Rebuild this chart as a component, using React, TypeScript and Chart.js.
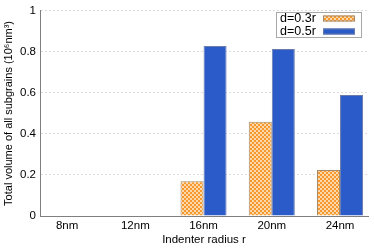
import React, { useEffect, useRef } from "react";
import { Chart, registerables } from "chart.js";

Chart.register(...registerables);

const categories = ["8nm", "12nm", "16nm", "20nm", "24nm"];
const seriesNames = ["d=0.3r", "d=0.5r"];
const valuesD03 = [0, 0, 0.17, 0.46, 0.224];
const valuesD05 = [0, 0, 0.829, 0.814, 0.59];
const yTicks = [0, 0.2, 0.4, 0.6, 0.8, 1];
const xPositions = [1, 2, 3, 4, 5];

const FONT = "'Liberation Sans', Arial, sans-serif";

function makePattern(): CanvasPattern | string {
  const c = document.createElement("canvas");
  c.width = 4;
  c.height = 4;
  const g = c.getContext("2d");
  if (!g) return "#f5a03c";
  g.fillStyle = "#f5992f";
  g.fillRect(0, 0, 4, 4);
  g.fillStyle = "#fcd8aa";
  g.fillRect(0, 0, 2, 2);
  g.fillRect(2, 2, 2, 2);
  const p = g.createPattern(c, "repeat");
  return p || "#f5a03c";
}

export default function App() {
  const ref = useRef<HTMLCanvasElement>(null);
  useEffect(() => {
    document.body.style.margin = "0";
    const canvas = ref.current;
    if (!canvas) return;
    const pattern = makePattern();
    const colors = [pattern, "#2a5bc9"];
    const borders = ["#a58a6c", "#6a7ca8"];

    const legendPlugin = {
      id: "customLegend",
      afterDraw(chart: any) {
        const ctx = chart.ctx;
        ctx.save();
        ctx.fillStyle = "#ffffff";
        ctx.fillRect(276.5, 12.5, 85, 25);
        ctx.strokeStyle = "#a8a8a8";
        ctx.lineWidth = 1;
        ctx.strokeRect(276.5, 12.5, 85, 25);
        ctx.font = "12.5px " + FONT;
        ctx.textBaseline = "middle";
        ctx.textAlign = "left";
        seriesNames.forEach((name, i) => {
          const cy = 18.5 + i * 13;
          ctx.fillStyle = "#000";
          ctx.fillText(name, 280, cy);
          ctx.fillStyle = colors[i];
          ctx.fillRect(323, cy - 3, 32, 6);
          ctx.strokeStyle = borders[i];
          ctx.strokeRect(323.5, cy - 2.5, 31, 5);
        });
        ctx.restore();
      },
    };

    const chart = new Chart(canvas, {
      type: "bar",
      data: {
        datasets: [valuesD03, valuesD05].map((vals, i) => ({
          label: seriesNames[i],
          data: vals.map((v, j) => ({ x: xPositions[j], y: v })),
          backgroundColor: colors[i],
          borderColor: borders[i],
          borderWidth: 1,
          categoryPercentage: 0.675,
          barPercentage: 1,
        })),
      },
      options: {
        responsive: false,
        animation: false,
        layout: { padding: { top: 6, right: 6, left: 0, bottom: 0 } },
        plugins: { legend: { display: false }, tooltip: { enabled: false } },
        scales: {
          x: {
            type: "linear",
            offset: false,
            min: 0.603,
            max: 5.41,
            grid: { display: false, drawTicks: false, offset: false },
            border: { color: "#7f7f7f", width: 1 },
            afterBuildTicks(scale: any) {
              scale.ticks = xPositions.map((v) => ({ value: v }));
            },
            afterFit(scale: any) {
              scale.height = 33;
            },
            ticks: {
              padding: 3,
              color: "#000",
              font: { family: FONT, size: 11.5 },
              callback: (v: any) => {
                const idx = xPositions.indexOf(Number(v));
                return idx >= 0 ? categories[idx] : "";
              },
            },
            title: {
              display: true,
              text: "Indenter radius r",
              color: "#000",
              font: { family: FONT, size: 11.5 },
              padding: { top: 1, bottom: 2 },
            },
          },
          y: {
            min: 0,
            max: 1,
            grid: {
              color: "#dcdcdc",
              drawTicks: false,
            },
            border: { color: "#7f7f7f", width: 1, dash: [2, 2] },
            afterBuildTicks(scale: any) {
              scale.ticks = yTicks.map((v) => ({ value: v }));
            },
            afterFit(scale: any) {
              scale.width = 40;
            },
            ticks: {
              padding: 4,
              color: "#000",
              font: { family: FONT, size: 11.5 },
              callback: (v: any) => String(Number(v)),
            },
            title: {
              display: true,
              text: "Total volume of all subgrains (10\u2076nm\u00b3)",
              color: "#000",
              font: { family: FONT, size: 11 },
              padding: { top: 2, bottom: 0 },
            },
          },
        },
      },
      plugins: [legendPlugin],
    } as any);
    return () => chart.destroy();
  }, []);
  return (
    <div style={{ width: 374, height: 249 }}>
      <canvas ref={ref} width={374} height={249} />
    </div>
  );
}
